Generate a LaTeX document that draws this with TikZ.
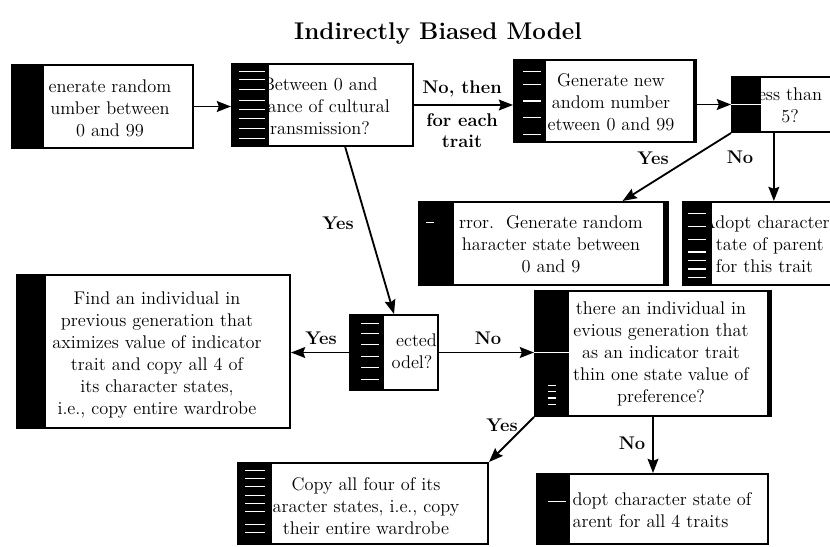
\documentclass[tikz,border=0pt]{standalone}
\usetikzlibrary{arrows.meta,calc,fit,positioning}
\tikzset{
  box/.style={draw, line width=1.2pt, inner sep=0pt},
  bar/.style={fill=black},
  stripe/.style={draw=white, line width=0.7pt},
  txt/.style={align=center, font=\fontsize{11}{13.2}\selectfont, inner sep=0pt},
  lbl/.style={align=center, font=\fontsize{11}{12.5}\selectfont\bfseries, inner sep=0pt},
  arr/.style={line width=1.1pt, -{Stealth[length=8.5pt,width=6.5pt,inset=1.2pt]}}
}

\begin{document}
\begin{tikzpicture}[x=0.6pt,y=-0.6pt]
\useasboundingbox (0,0) rectangle (830,546);

% title
\node[font=\fontsize{14.5}{16}\selectfont\bfseries] (title) at (438,34) {Indirectly Biased Model};

% boxes
\node[box, fit={(12,65) (193,148)}] (gen) {};
\node[box, fit={(232,64) (413,146)}] (chance) {};
\node[box, fit={(514,60) (696,142)}] (newnum) {};
\node[box, fit={(732,77) (845,132)}] (less) {};
\node[box, fit={(419,202) (668,285)}] (error) {};
\node[box, fit={(683,202) (845,285)}] (adopt) {};
\node[box, fit={(17,275) (290,428)}] (find) {};
\node[box, fit={(350,315) (438,390)}] (directed) {};
\node[box, fit={(535,291) (771,416)}] (indiv) {};
\node[box, fit={(238,463) (488,544)}] (copyall) {};
\node[box, fit={(537,474) (768,544)}] (adoptall) {};

% box texts
\node[txt] (gentxt) at (110,108) {enerate random\\umber between\\0 and 99};
\node[txt] (chancetxt) at (320,106) {Between 0 and\\chance of cultural\\ransmission?};
\node[txt] (newnumtxt) at (611,102) {Generate new\\andom number\\etween 0 and 99};
\node[txt] (lesstxt) at (790,105) {ess than\\5?};
\node[txt] (errortxt) at (551,244) {rror.\ \ Generate random\\haracter state between\\0 and 9};
\node[txt, align=left] (adopttxt) at (766,244) {Adopt character\\\phantom{A}tate of parent\\\phantom{A}for this trait};
\node[txt] (findtxt) at (157,355) {Find an individual in\\previous generation that\\aximizes value of indicator\\trait and copy all 4 of\\its character states,\\i.e., copy entire wardrobe};
\node[txt] (directedtxt) at (412,351) {\phantom{o}ected\\odel?};
\node[txt] (indivtxt) at (661,354) {there an individual in\\evious generation that\\as an indicator trait\\thin one state value of\\preference?};
\node[txt] (copyalltxt) at (366,506) {Copy all four of its\\aracter states, i.e., copy\\their entire wardrobe};
\node[txt, align=left] (adoptalltxt) at (662,510) {dopt character state of\\arent for all 4 traits};

% black bars on the left
\fill[bar] (gen.north west) rectangle ($(gen.south west)+(33,0)$);
\fill[bar] (chance.north west) rectangle ($(chance.south west)+(38,0)$);
\fill[bar] (newnum.north west) rectangle ($(newnum.south west)+(33,0)$);
\fill[bar] (less.north west) rectangle ($(less.south west)+(30,0)$);
\fill[bar] (error.north west) rectangle ($(error.south west)+(36,0)$);
\fill[bar] (adopt.north west) rectangle ($(adopt.south west)+(30,0)$);
\fill[bar] (find.north west) rectangle ($(find.south west)+(30,0)$);
\fill[bar] (directed.north west) rectangle ($(directed.south west)+(35,0)$);
\fill[bar] (indiv.north west) rectangle ($(indiv.south west)+(35,0)$);
\fill[bar] (copyall.north west) rectangle ($(copyall.south west)+(35,0)$);
\fill[bar] (adoptall.north west) rectangle ($(adoptall.south west)+(34,0)$);

% thick right edges
\fill[bar] ($(newnum.north east)+(-4,0)$) rectangle (newnum.south east);
\fill[bar] ($(error.north east)+(-6,0)$) rectangle (error.south east);
\fill[bar] ($(indiv.north east)+(-5,0)$) rectangle (indiv.south east);

% stripes in the bars
\foreach \f in {0.1,0.2,0.32,0.45,0.55,0.66,0.78,0.9}
  \draw[stripe] ($(chance.north west)!\f!(chance.south west)+(8,0)$) -- ++(26,0);
\foreach \f in {0.15,0.3,0.5,0.7,0.9}
  \draw[stripe] ($(newnum.north west)!\f!(newnum.south west)+(10,0)$) -- ++(18,0);
\draw[stripe] ($(less.north west)!0.5!(less.south west)$) -- ++(30,0);
\draw[stripe] ($(error.north west)!0.25!(error.south west)+(8,0)$) -- ++(8,0);
\foreach \f in {0.15,0.3,0.45,0.6,0.7,0.8,0.9}
  \draw[stripe] ($(adopt.north west)!\f!(adopt.south west)+(6,0)$) -- ++(18,0);
\foreach \f in {0.12,0.25,0.4,0.55,0.7,0.85}
  \draw[stripe] ($(directed.north west)!\f!(directed.south west)+(12,0)$) -- ++(18,0);
\draw[stripe] ($(indiv.north west)!0.49!(indiv.south west)$) -- ++(35,0);
\foreach \f in {0.75,0.8,0.85,0.9}
  \draw[stripe] ($(indiv.north west)!\f!(indiv.south west)+(14,0)$) -- ++(8,0);
\foreach \f in {0.1,0.2,0.3,0.4,0.5,0.6,0.75,0.85}
  \draw[stripe] ($(copyall.north west)!\f!(copyall.south west)+(8,0)$) -- ++(20,0);
\draw[stripe] ($(adoptall.north west)!0.4!(adoptall.south west)+(12,0)$) -- ++(18,0);

% connectors
\coordinate (errtop) at ($(error.north west)!0.815!(error.north east)$);
\coordinate (adtop) at ($(adopt.north west)!0.56!(adopt.north east)$);
\coordinate (chbot) at ($(chance.south west)!0.624!(chance.south east)$);
\draw[arr] (gen.east) -- (gen.east -| chance.west);
\draw[arr] (chance.east) -- (chance.east -| newnum.west);
\draw[arr] (less.west -| newnum.east) -- (less.west);
\draw[arr] (less.south west) -- (errtop);
\draw[arr] (less.south -| adtop) -- (adtop);
\draw[arr] (chbot) -- (directed.north);
\draw[arr] (directed.west) -- (directed.west -| find.east);
\draw[arr] (directed.east) -- (directed.east -| indiv.west);
\draw[arr] (indiv.south west) -- (copyall.north east);
\draw[arr] (indiv.south) -- (indiv.south |- adoptall.north);

% connector labels
\node[lbl] (nothen) at (462,89) {No, then};
\node[lbl] (foreach) at (462,131) {for each\\trait};
\node[lbl] (yes1) at (653,158) {Yes};
\node[lbl] (no1) at (740,157) {No};
\node[lbl] (yes2) at (338,223) {Yes};
\node[lbl] (yes3) at (321,338) {Yes};
\node[lbl] (no2) at (488,338) {No};
\node[lbl] (yes4) at (502,425) {Yes};
\node[lbl] (no3) at (632,443) {No};
\end{tikzpicture}
\end{document}
